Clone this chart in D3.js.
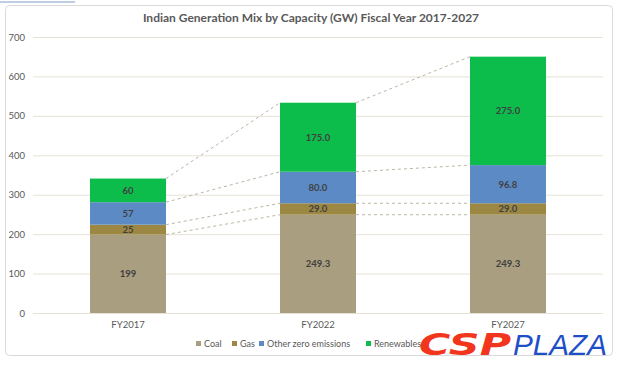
<!DOCTYPE html>
<html><head><meta charset="utf-8">
<script src="https://cdn.jsdelivr.net/npm/d3@7"></script>
<style>body{margin:0;background:#fff;}svg{display:block;font-family:Lato,"Open Sans",sans-serif;}</style>
</head><body>
<svg id="c" width="620" height="367"></svg>
<script>
const categories = ["FY2017","FY2022","FY2027"];
const seriesNames = ["Coal","Gas","Other zero emissions","Renewables"];
const coal = [199, 249.3, 249.3];
const gas = [25, 29.0, 29.0];
const otherZero = [57, 80.0, 96.8];
const renewables = [60, 175.0, 275.0];
const labelDecimals = [0, 1, 1];
const yTicks = [0,100,200,300,400,500,600,700];
const colors = ["#A99E7F","#9C8843","#5B8AC4","#0CBD4C"];

const svg = d3.select("#c");
const W=620,H=367;
const m={l:33,r:17,t:37,b:54};
const pw=W-m.l-m.r, ph=H-m.t-m.b;

// frame
svg.append("rect").attr("x",5.5).attr("y",5.5).attr("width",607).attr("height",350).attr("rx",4)
  .attr("fill","#fff").attr("stroke","#D9D9D9");
svg.append("line").attr("x1",0).attr("x2",75).attr("y1",2).attr("y2",2).attr("stroke","#7f9cc9").attr("stroke-width",1);

const x=d3.scaleBand().domain(categories).range([m.l,m.l+pw]).paddingInner(0.6).paddingOuter(0.3);
const y=d3.scaleLinear().domain([0,700]).range([m.t+ph,m.t]);

// grid
svg.append("g").selectAll("line").data(yTicks).join("line")
  .attr("x1",m.l).attr("x2",m.l+pw).attr("y1",d=>y(d)+0.5).attr("y2",d=>y(d)+0.5)
  .attr("stroke","#E6E2D6").attr("stroke-width",1);
// y labels
svg.append("g").selectAll("text").data(yTicks).join("text")
  .attr("x",25).attr("y",d=>y(d)+3.5).attr("text-anchor","end")
  .attr("font-size",9.5).attr("fill","#595959").text(d=>d);

const data = categories.map((c,i)=>({cat:c, vals:[coal[i],gas[i],otherZero[i],renewables[i]], dec:labelDecimals[i]}));
const stacked = data.map(d=>{let acc=0; return d.vals.map((v,k)=>{const s={cat:d.cat,k,v,y0:acc,y1:acc+v,dec:d.dec}; acc+=v; return s;});});

// connector dashed lines
for(let i=0;i<stacked.length-1;i++){
  stacked[i].forEach((s,k)=>{
    const n=stacked[i+1][k];
    svg.append("line")
      .attr("x1",x(categories[i])+x.bandwidth()).attr("y1",y(s.y1))
      .attr("x2",x(categories[i+1])).attr("y2",y(n.y1))
      .attr("stroke","#BDB6A6").attr("stroke-width",1).attr("stroke-dasharray","3,3");
  });
}

const segs = stacked.flat();
svg.append("g").selectAll("rect").data(segs).join("rect")
  .attr("x",d=>x(d.cat)).attr("width",x.bandwidth())
  .attr("y",d=>y(d.y1)).attr("height",d=>y(d.y0)-y(d.y1))
  .attr("fill",d=>colors[d.k]);
svg.append("g").selectAll("text").data(segs).join("text")
  .attr("x",d=>x(d.cat)+x.bandwidth()/2).attr("y",d=>(y(d.y0)+y(d.y1))/2+3.5)
  .attr("text-anchor","middle").attr("font-size",9.5).attr("font-weight","bold")
  .attr("fill","#404040").text(d=>d.v.toFixed(d.dec));

// x labels
svg.append("g").selectAll("text").data(categories).join("text")
  .attr("x",d=>x(d)+x.bandwidth()/2).attr("y",328).attr("text-anchor","middle")
  .attr("font-size",9.5).attr("fill","#595959").text(d=>d);

// title
svg.append("text").attr("x",311).attr("y",22).attr("text-anchor","middle")
  .attr("font-size",12).attr("font-weight","bold").attr("fill","#595959")
  .text("Indian Generation Mix by Capacity (GW) Fiscal Year 2017-2027");

// legend
const legX=[196,232,259,366];
const lg=svg.append("g").selectAll("g").data(seriesNames).join("g")
  .attr("transform",(d,i)=>`translate(${legX[i]},347)`);
lg.append("rect").attr("x",0).attr("y",-6).attr("width",5).attr("height",5).attr("fill",(d,i)=>colors[i]);
lg.append("text").attr("x",8).attr("y",0).attr("font-size",9).attr("fill","#595959").text(d=>d);

// watermark
svg.append("text").attr("x",419).attr("y",355).attr("font-size",30).attr("font-style","italic")
  .attr("font-family","'DejaVu Sans',sans-serif").attr("font-weight","bold").attr("fill","#F2361E")
  .attr("textLength",92).attr("lengthAdjust","spacingAndGlyphs").text("CSP");
svg.append("text").attr("x",513).attr("y",355).attr("font-size",30).attr("font-style","italic")
  .attr("font-family","'Liberation Sans',sans-serif").attr("font-weight","normal").attr("fill","#1E4FC7")
  .attr("textLength",94).attr("lengthAdjust","spacingAndGlyphs").text("PLAZA");
</script>
</body></html>
